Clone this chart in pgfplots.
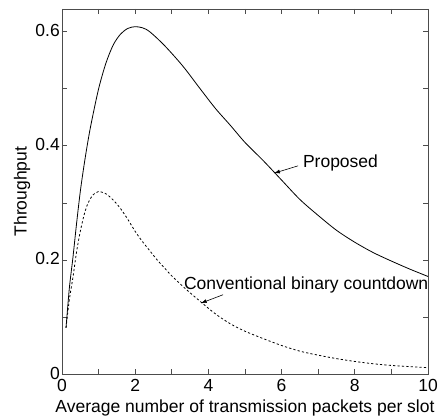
\documentclass[border=0pt]{standalone}
\usepackage{fontspec}
\setmainfont{Liberation Sans}
\usepackage{pgfplots}
\pgfplotsset{compat=1.18}
\usetikzlibrary{arrows.meta}
\begin{document}
\begin{tikzpicture}
\fontsize{17.5bp}{20bp}\selectfont
\begin{axis}[
  at={(0,0)}, anchor=origin,
  scale only axis, width=366bp, height=365bp,
  xmin=0, xmax=10, ymin=0, ymax=0.64,
  xtick={0,2,...,10}, minor xtick={1,3,...,9},
  ytick={0,0.2,0.4,0.6}, minor ytick={0.1,0.3,0.5},
  tick align=inside, major tick length=5bp, minor tick length=5bp,
  axis line style={black!70, line width=0.8bp},
  every tick/.style={black!70, line width=0.8bp},
  /pgf/number format/assume math mode=true,
  ticklabel style={font=\fontsize{17.5bp}{20bp}\selectfont},
  xticklabel style={inner xsep=1bp, inner ysep=0pt, yshift=-5bp},
  yticklabel style={inner xsep=2bp, inner ysep=0pt, yshift=1bp},
  label style={font=\fontsize{17.5bp}{20bp}\selectfont},
  xlabel={Average number of transmission packets per slot},
  ylabel={Throughput},
  xlabel style={at={(axis description cs:0.5,-0.092)}, anchor=center},
  ylabel style={at={(axis description cs:-0.109,0.5)}, anchor=center},
  clip=false,
]
\addplot[black, line width=0.8bp, smooth] coordinates {
(0.11,0.081) (0.2,0.15) (0.3,0.205) (0.4,0.265) (0.5,0.32) (0.6,0.365) (0.7,0.405)
(0.8,0.44) (1.0,0.50) (1.2,0.545) (1.4,0.577) (1.6,0.596) (1.8,0.606) (2.0,0.609)
(2.2,0.607) (2.4,0.600) (2.8,0.576) (3.3,0.540) (3.8,0.498) (4.2,0.465) (4.6,0.436)
(5.0,0.406) (5.5,0.374) (6.0,0.340) (6.5,0.306) (7.0,0.278) (7.5,0.252) (8.0,0.231)
(8.5,0.213) (9.0,0.198) (9.5,0.184) (10,0.171)
};
\addplot[black, line width=0.8bp, smooth, dash pattern=on 2.2bp off 2.2bp] coordinates {
(0.11,0.081) (0.2,0.13) (0.3,0.17) (0.4,0.215) (0.5,0.250) (0.6,0.278) (0.7,0.298)
(0.8,0.310) (0.9,0.317) (1.0,0.320) (1.2,0.316) (1.4,0.305) (1.6,0.290) (1.8,0.271)
(2.0,0.250) (2.2,0.232) (2.4,0.216) (2.6,0.200) (2.8,0.186) (3.0,0.172) (3.4,0.148)
(3.8,0.126) (4.2,0.105) (4.6,0.088) (5.0,0.075) (5.5,0.062) (6.0,0.050) (6.5,0.040)
(7.0,0.033) (7.5,0.027) (8.0,0.022) (8.5,0.018) (9.0,0.015) (9.5,0.013) (10,0.011)
};
\node[anchor=west, inner sep=0pt] at (axis cs:6.58,0.37) {Proposed};
\draw[black, line width=0.6bp, -{Latex[length=6bp,width=4bp]}] (axis cs:6.45,0.365) -- (axis cs:5.79,0.352);
\node[anchor=west, inner sep=0pt] at (axis cs:3.33,0.156) {Conventional binary countdown};
\draw[black, line width=0.6bp, -{Latex[length=6bp,width=4bp]}] (axis cs:4.40,0.139) -- (axis cs:3.79,0.124);
\end{axis}
\pgfresetboundingbox
\path (-62bp,-45bp) rectangle (380bp,374bp);
\end{tikzpicture}
\end{document}
